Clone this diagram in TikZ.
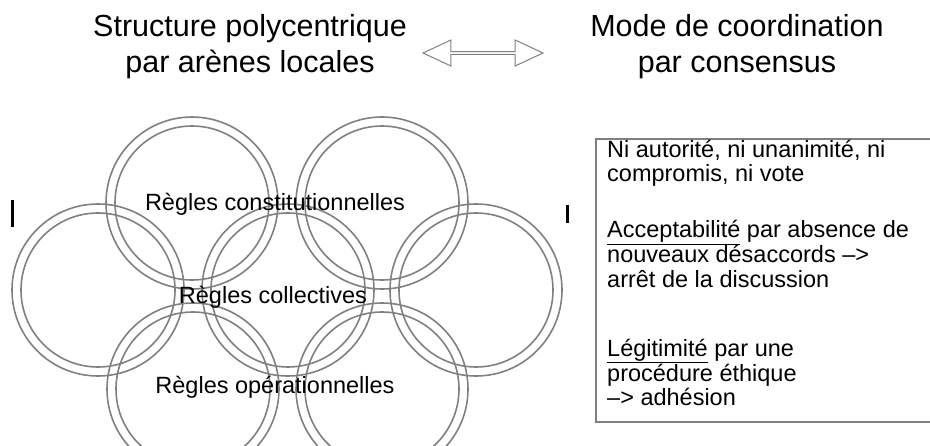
\documentclass[tikz,border=0pt]{standalone}
\usepackage{fontspec}
\setmainfont{Liberation Sans}
\usetikzlibrary{shapes.arrows}
\definecolor{ringgray}{gray}{0.5}
\definecolor{boxgray}{gray}{0.5}
\tikzset{
  ring/.style= {circle, draw=ringgray, line width=1.6, inner sep=0, minimum size=172},
  hole/.style= {circle, draw=ringgray, line width=1.6, inner sep=0, minimum size=154},
  rule/.style= {font=\fontsize{23.5}{27}\selectfont},
  title/.style= {align=center, anchor=base, font=\fontsize{30.5}{35.5}\selectfont},
  para/.style= {align=left, anchor=base west, inner sep=0, font=\fontsize{23.5}{23.5}\selectfont},
  link/.style= {double arrow, draw=gray, line width=1, double arrow tip angle=50,
    double arrow head extend=4.5, minimum height=120, minimum width=26, inner sep=0},
  panel/.style= {draw=boxgray, line width=1.5, anchor=north west, minimum width=345, minimum height=283},
  stub/.style= {line width=3},
}

\begin{document}
\begin{tikzpicture}[x=1pt, y=-1pt]
  \useasboundingbox (0,0) rectangle (930,445);
  % base anchor of a two-line node sits on its last line
  \node [title] (struct) at (250,72) {Structure polycentrique\\par arènes locales} ;
  \node [title] (mode) at (737,72) {Mode de coordination\\par consensus} ;
  \node [link] (link) at (483,53) {} ;

  \foreach \n/\x/\y in {tl/192/203, tr/382/203, ml/98/290, mc/288/290, mr/476/290, bl/193/389, br/382/389} {
    \node [ring] (\n) at (\x,\y) {} ;
    \node [hole] (\n-in) at (\n) {} ;
  }
  \node [rule] (constit) at (275,204) {Règles constitutionnelles} ;
  \node [rule] (collect) at (273,297) {Règles collectives} ;
  \node [rule] (operat) at (275,387) {Règles opérationnelles} ;

  \draw [stub] (12,200) -- (12,227) ;
  \draw [stub] (567,205) -- (567,223) ;

  \node [panel] (panel) at (595,138) {} ;
  \node [para] (consensus) at (607,405) {Ni autorité, ni unanimité, ni\\compromis, ni vote\\[33pt]
    \underline{Acceptabilité} par absence de\\nouveaux désaccords -->\\[1.5pt]arrêt de la discussion\\[45pt]
    \underline{Légitimité} par une\\procédure  éthique\\ --> adhésion} ;
\end{tikzpicture}
\end{document}
